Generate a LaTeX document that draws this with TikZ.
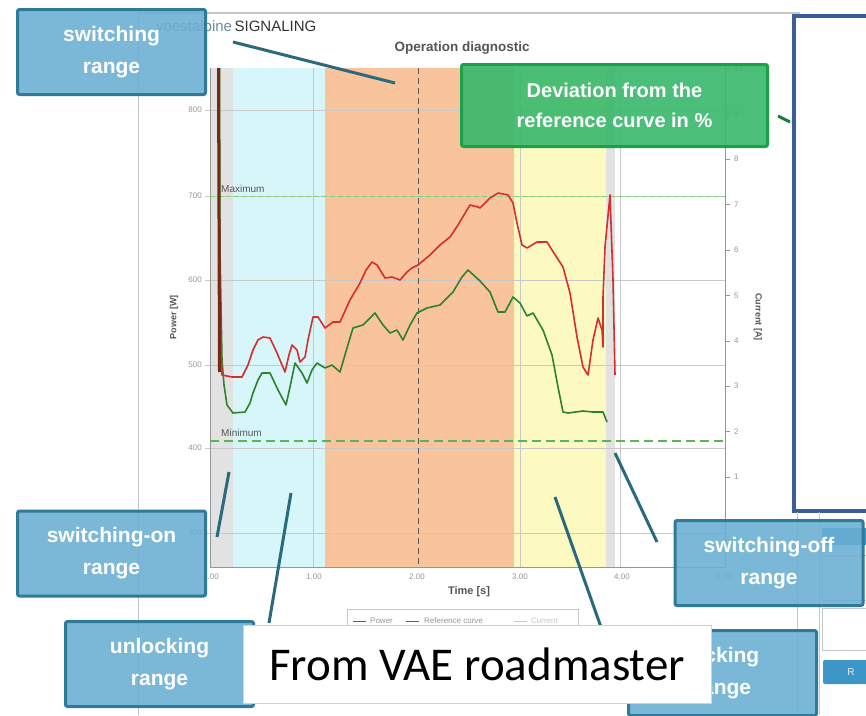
\documentclass[tikz,border=0pt]{standalone}
\usepackage{fontspec}
\setmainfont{Liberation Sans}
\newfontfamily\calib{Carlito}
\definecolor{orangeR}{RGB}{249,196,156}
\definecolor{cyanR}{RGB}{214,246,250}
\definecolor{yellowR}{RGB}{252,250,192}
\definecolor{grayR}{RGB}{226,226,226}
\definecolor{gridC}{RGB}{200,200,200}
\definecolor{tickC}{RGB}{150,150,150}
\definecolor{boxFill}{RGB}{105,175,210}
\definecolor{boxLine}{RGB}{46,122,152}
\definecolor{connC}{RGB}{43,106,126}
\definecolor{devFill}{RGB}{56,184,108}
\definecolor{devLine}{RGB}{30,160,75}
\definecolor{powerC}{RGB}{215,45,45}
\definecolor{refC}{RGB}{45,130,45}
\definecolor{brownC}{RGB}{120,40,20}
\definecolor{minC}{RGB}{90,180,90}
\definecolor{maxC}{RGB}{130,205,120}
\definecolor{frameBlue}{RGB}{58,95,150}
\definecolor{vgray}{RGB}{110,140,150}
\definecolor{titleC}{RGB}{85,85,85}
\definecolor{panelC}{RGB}{190,200,205}
\definecolor{btnC}{RGB}{60,150,200}
\tikzset{
  bbox/.style={draw=boxLine, line width=3pt, fill=boxFill, fill opacity=0.88, text opacity=1,
    rounded corners=2pt, text=white, font=\bfseries\fontsize{21}{32}\selectfont, align=center,
    inner sep=0pt, minimum width=188pt, minimum height=85pt},
  devbox/.style={draw=devLine, line width=3pt, fill=devFill, fill opacity=0.9, text opacity=1,
    rounded corners=2pt, text=white, font=\bfseries\fontsize{20}{30}\selectfont, align=center,
    inner sep=0pt, minimum width=306pt, minimum height=82pt},
  conn/.style={draw=connC, line width=3pt},
  grid line/.style={draw=gridC, line width=0.6pt},
  ticklab/.style={font=\fontsize{8}{9}\selectfont, text=tickC, inner sep=1pt},
  curve/.style={line width=1.6pt, line join=round},
  axlab/.style={font=\bfseries\fontsize{9}{10}\selectfont, text=titleC, inner sep=0pt},
  leglab/.style={font=\fontsize{8}{9}\selectfont, text=tickC, anchor=west, inner sep=0pt},
}
\begin{document}
\begin{tikzpicture}[x=1pt,y=-1pt]
\useasboundingbox (0,0) rectangle (866,715);
\fill[white] (0,0) rectangle (866,715);
% panel frame
\draw[draw=panelC, line width=1pt] (138,715) -- (138,11);
\draw[draw=panelC, line width=2pt] (138,13) -- (800,13);
% shaded ranges
\fill[grayR] (210,68) rectangle (233,567);
\fill[cyanR] (233,68) rectangle (325,567);
\fill[orangeR] (325,68) rectangle (514,567);
\fill[yellowR] (514,68) rectangle (606,567);
\fill[grayR] (606,68) rectangle (615,567);
% grid
\foreach \yy in {110,196,280,365,448,533} {\draw[grid line] (205,\yy) -- (725,\yy);}
\foreach \xx in {313,520,620} {\draw[grid line] (\xx,68) -- (\xx,567);}
\draw[draw=tickC, line width=0.7pt] (210,68) -- (210,567) -- (725,567);
\draw[draw=tickC, line width=0.7pt] (725,68) -- (725,567);
\draw[draw=gray!70!black, line width=0.8pt, dash pattern=on 6pt off 4pt] (418,68) -- (418,567);
% left tick labels
\foreach \yy/\vv in {110/800,196/700,280/600,365/500,448/400,533/300}
  {\node[ticklab, anchor=east] (ly\vv) at (203,\yy) {\vv};}
% right tick labels
\foreach \vv in {1,...,10} {
  \pgfmathsetmacro{\yy}{522.4-45.4*\vv}
  \draw[draw=tickC, line width=0.6pt] (725,\yy) -- (730,\yy);
  \node[ticklab, anchor=west] (ry\vv) at (733,\yy) {\vv};
}
% bottom tick labels
\foreach \xx/\vv in {211/0.00,314/1.00,417/2.00,520/3.00,622/4.00,724/5.00}
  {\node[ticklab] (bx\xx) at (\xx,577) {\vv};}
% max/min lines
\draw[draw=maxC, line width=0.9pt, dash pattern=on 5pt off 3pt] (210,196) -- (725,196);
\draw[draw=minC, line width=1.5pt, dash pattern=on 9pt off 5pt] (210,441) -- (725,441);
\node[font=\fontsize{10}{11}\selectfont, text=titleC, anchor=west, inner sep=0pt] (maxlab) at (221,189) {Maximum};
\node[font=\fontsize{10}{11}\selectfont, text=titleC, anchor=west, inner sep=0pt] (minlab) at (221,433) {Minimum};
% axis labels and titles
\node[axlab, rotate=90] (powlab) at (174,317) {Power [W]};
\node[axlab, rotate=-90] (curlab) at (758,317) {Current [A]};
\node[font=\bfseries\fontsize{11}{12}\selectfont, text=titleC, inner sep=0pt] (timelab) at (469,592) {Time [s]};
\node[font=\fontsize{15}{16}\selectfont, anchor=west, inner sep=0pt, text=black!80] (brand) at (156,28) {{\color{vgray}voestalpine}\,SIGNALING};
\node[font=\bfseries\fontsize{13.5}{15}\selectfont, text=titleC, inner sep=0pt] (title) at (462,48) {Operation diagnostic};
% legend
\draw[draw=gridC, line width=0.7pt, fill=white] (347,640) -- (347,609) -- (578,609) -- (578,640);
\draw[draw=powerC, line width=1pt] (353,621) -- (366,621);
\node[leglab] (lg1) at (370,621) {Power};
\draw[draw=refC, line width=1pt] (406,621) -- (419,621);
\node[leglab] (lg2) at (424,621) {Reference curve};
\draw[draw=gridC, line width=1pt] (514,621) -- (527,621);
\node[leglab, text=gridC] (lg3) at (531,621) {Current};
% curves
\draw[curve, draw=refC] plot coordinates {(219.5,68) (220,250) (222,360) (224,385) (227,405) (233,413) (245,412) (250,403) (253,393) (258,380) (262,373) (270,373) (278,390) (286,405) (290,387) (295,363) (302,373) (307,383) (312,370) (317,363) (325,368) (332,365) (340,372) (347,348) (353,328) (363,325) (375,313) (383,325) (390,333) (397,330) (403,340) (410,325) (417,313) (427,308) (440,305) (453,292) (462,277) (468,270) (480,281) (490,292) (498,312) (505,312) (513,297) (520,303) (527,316) (533,313) (543,330) (552,355) (558,387) (563,412) (568,413) (583,411) (593,412) (603,412) (607,422)};
\draw[curve, draw=powerC] plot coordinates {(218,68) (219,200) (220,330) (222,375) (232,377) (242,377) (248,365) (253,350) (258,340) (263,337) (270,338) (277,353) (285,372) (289,355) (292,345) (297,350) (300,362) (305,357) (308,340) (313,317) (318,317) (325,328) (333,322) (340,322) (350,300) (360,283) (366,270) (372,262) (377,265) (385,278) (392,277) (400,280) (407,272) (412,268) (418,265) (430,255) (440,245) (450,237) (458,225) (470,205) (478,207) (480,208) (490,198) (498,193) (508,195) (513,203) (517,223) (522,245) (527,248) (537,242) (547,242) (552,250) (563,267) (570,293) (577,337) (583,367) (588,375) (593,340) (598,318) (602,330) (603,347) (603,297) (605,247) (610,195) (613,280) (615,375)};
\draw[draw=brownC, line width=3pt] (218.5,68) -- (219.5,372);
% right-hand panel pieces
\draw[draw=frameBlue, line width=3.5pt, fill=white] (794,16) rectangle (875,511);
\draw[draw=panelC, line width=1pt] (797,512) -- (797,715);
\draw[draw=panelC, line width=1pt] (819,512) -- (819,715);
\fill[btnC] (822,528) rectangle (866,545);
\draw[draw=panelC, line width=0.8pt, fill=white] (822,555) rectangle (870,600);
\draw[draw=panelC, line width=0.8pt, fill=white] (822,608) rectangle (870,650);
\fill[btnC, rounded corners=2pt] (823,660) rectangle (872,684);
\node[font=\fontsize{10}{11}\selectfont, text=white!85!btnC, inner sep=0pt] (btnR) at (851,672) {R};
% connector end points
\coordinate (c1a) at (233,42);  \coordinate (c1b) at (395,83);
\coordinate (c2a) at (217,537); \coordinate (c2b) at (229,472);
\coordinate (c3a) at (269,623); \coordinate (c3b) at (291,493);
\coordinate (c4a) at (657,542); \coordinate (c4b) at (615,453);
\coordinate (c5a) at (602,630); \coordinate (c5b) at (555,497);
\coordinate (c6a) at (778,116); \coordinate (c6b) at (790,122);
\draw[conn] (c1a) -- (c1b);
\draw[conn] (c2a) -- (c2b);
\draw[conn] (c3a) -- (c3b);
\draw[conn] (c4a) -- (c4b);
\draw[conn] (c5a) -- (c5b);
\draw[draw=devLine!80!black, line width=3pt] (c6a) -- (c6b);
% annotation boxes
\node[bbox] (swr) at (111.5,52) {switching\\range};
\node[bbox] (swon) at (111.5,553.5) {switching-on\\range};
\node[bbox] (unl) at (159.5,664) {unlocking\\range};
\node[bbox] (swoff) at (769,563) {switching-off\\range};
\node[bbox] (lock) at (722.5,673) {locking\\range};
\node[devbox] (dev) at (614.5,105.5) {Deviation from the\\reference curve in \%};
% source note
\node[draw=gray!35, line width=0.8pt, fill=white, minimum width=468pt, minimum height=78pt, inner sep=0pt,
  font=\calib\fontsize{47}{50}\selectfont, text=black] (src) at (477,664) {From VAE roadmaster};
\end{tikzpicture}
\end{document}
